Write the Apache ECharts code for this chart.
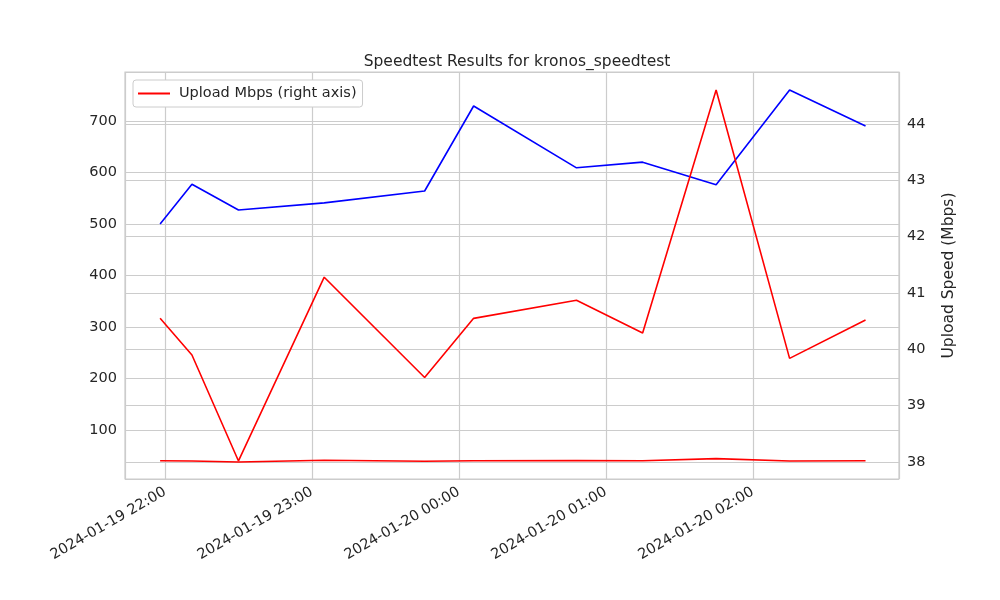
<!DOCTYPE html>
<html>
<head>
<meta charset="utf-8">
<script src="https://cdn.jsdelivr.net/npm/echarts@6/dist/echarts.min.js"></script>
<style>html,body{margin:0;padding:0;background:#fff}#main{width:1000px;height:600px}</style>
</head>
<body>
<div id="main"></div>
<script>
// test times (local)
const times = [
  '2024-01-19 21:58', '2024-01-19 22:11', '2024-01-19 22:30', '2024-01-19 23:05',
  '2024-01-19 23:46', '2024-01-20 00:06', '2024-01-20 00:48', '2024-01-20 01:15',
  '2024-01-20 01:45', '2024-01-20 02:15', '2024-01-20 02:46'
]
const downloadMbps = [500, 577, 527, 541, 564, 729, 609, 620, 576, 760, 690]
const uploadMbps = [40.55, 39.9, 38.02, 41.28, 39.5, 40.55, 40.87, 40.29, 44.6, 39.84, 40.52]

const toMs = s => new Date(s.replace(' ', 'T') + ':00').getTime()
const pairs = vals => times.map((t, i) => [toMs(t), vals[i]])

const font = 'DejaVu Sans'
const txt = '#262626'
const grey = '#cccccc'

const chart = echarts.init(document.getElementById('main'))
chart.setOption({
  animation: false,
  backgroundColor: '#fff',
  textStyle: { fontFamily: font },
  title: {
    text: 'Speedtest Results for kronos_speedtest',
    left: 512, top: 49, textAlign: 'center',
    textStyle: { fontFamily: font, fontSize: 15.5, fontWeight: 'normal', color: txt }
  },
  legend: {
    data: ['Upload Mbps (right axis)'],
    left: 133, top: 80,
    padding: [6, 6, 6, 5],
    backgroundColor: '#fff',
    borderColor: grey, borderWidth: 1, borderRadius: 3,
    icon: 'rect', itemWidth: 32, itemHeight: 2, itemGap: 10,
    textStyle: { fontFamily: font, fontSize: 14.5, color: txt, padding: [0, 0, 0, 4] }
  },
  grid: { left: 125, right: 101, top: 72, bottom: 121, show: true, borderColor: grey, borderWidth: 1.2 },
  xAxis: {
    type: 'time',
    min: toMs('2024-01-19 21:43') + 40000,
    max: toMs('2024-01-20 02:59') + 40000,
    minInterval: 3600000, maxInterval: 3600000,
    axisLine: { show: false },
    axisTick: { show: false },
    splitLine: { show: true, lineStyle: { color: grey, width: 1.2 } },
    axisLabel: {
      rotate: 30, color: txt, fontSize: 14.5, fontFamily: font, margin: 12,
      showMinLabel: false, showMaxLabel: false,
      formatter: '{yyyy}-{MM}-{dd} {HH}:{mm}'
    }
  },
  yAxis: [{
    type: 'value', min: 5, max: 795, splitNumber: 8,
    axisLine: { show: false }, axisTick: { show: false },
    splitLine: { lineStyle: { color: grey, width: 1.2 } },
    axisLabel: { color: txt, fontSize: 14.5, fontFamily: font, showMinLabel: false, showMaxLabel: false }
  }, {
    type: 'value', min: 37.7, max: 44.92, splitNumber: 7, position: 'right',
    name: 'Upload Speed (Mbps)', nameLocation: 'middle', nameGap: 42, nameRotate: 90,
    nameTextStyle: { color: txt, fontSize: 15.5, fontFamily: font },
    axisLine: { show: false }, axisTick: { show: false },
    splitLine: { lineStyle: { color: grey, width: 1.2 } },
    axisLabel: { color: txt, fontSize: 14.5, fontFamily: font, showMinLabel: false, showMaxLabel: false }
  }],
  series: [{
    name: 'Download Mbps', type: 'line', yAxisIndex: 0, data: pairs(downloadMbps),
    showSymbol: false, lineStyle: { color: '#0000ff', width: 1.6 }, itemStyle: { color: '#0000ff' }
  }, {
    name: 'Upload Mbps', type: 'line', yAxisIndex: 0, data: pairs(uploadMbps),
    showSymbol: false, lineStyle: { color: '#ff0000', width: 1.6 }, itemStyle: { color: '#ff0000' }
  }, {
    name: 'Upload Mbps (right axis)', type: 'line', yAxisIndex: 1, data: pairs(uploadMbps),
    showSymbol: false, lineStyle: { color: '#ff0000', width: 1.6 }, itemStyle: { color: '#ff0000' }
  }]
})
</script>
</body>
</html>
